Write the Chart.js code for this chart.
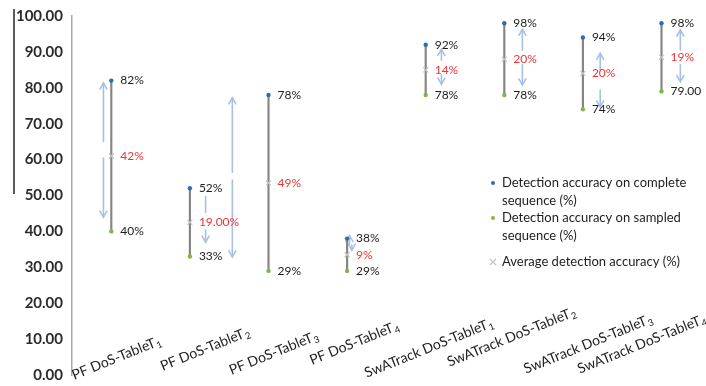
<!DOCTYPE html>
<html>
<head>
<meta charset="utf-8">
<script src="https://cdn.jsdelivr.net/npm/chart.js@4/dist/chart.umd.min.js"></script>
<style>
  html, body { margin: 0; padding: 0; background: #fff; }
  #wrap { width: 706px; height: 386px; position: relative; }
</style>
</head>
<body>
<div id="wrap"><canvas id="c" width="706" height="386"></canvas></div>
<script>
// Categories (trailing digit is drawn as a subscript)
const categories = [
  'PF DoS-TableT1', 'PF DoS-TableT2', 'PF DoS-TableT3', 'PF DoS-TableT4',
  'SwATrack DoS-TableT1', 'SwATrack DoS-TableT2', 'SwATrack DoS-TableT3', 'SwATrack DoS-TableT4'
];

// Detection accuracy on complete sequence (%)
const completeAcc = [82, 52, 78, 38, 92, 98, 94, 98];
// Detection accuracy on sampled sequence (%)
const sampledAcc = [40, 33, 29, 29, 78, 78, 74, 79];
// Average detection accuracy (%)
const averageAcc = [61, 42.5, 53.5, 33.5, 85, 88, 84, 88.5];

// Text shown next to each mark
const completeText = ['82%', '52%', '78%', '38%', '92%', '98%', '94%', '98%'];
const sampledText = ['40%', '33%', '29%', '29%', '78%', '78%', '74%', '79.00'];
const gapText = ['42%', '19.00%', '49%', '9%', '14%', '20%', '20%', '19%'];

// Legend entries
const seriesNames = [
  ['Detection accuracy on complete', 'sequence (%)'],
  ['Detection accuracy on sampled', 'sequence (%)'],
  ['Average detection accuracy (%)']
];

// Y axis tick values
const yTicks = [0, 10, 20, 30, 40, 50, 60, 70, 80, 90, 100];

// Annotation arrows: [category, shift in category widths, from value, to value, arrow head]
const arrowMarks = [
  [0, -0.10, 65.0, 81.3, true], [0, -0.10, 60.4, 44.0, true],
  [1, 0.20, 45.3, 49.7, false], [1, 0.20, 40.4, 37.0, true],
  [2, -0.46, 56.5, 77.2, true], [2, -0.46, 54.3, 32.9, true],
  [3, 0.03, 36.5, 38.8, true], [3, 0.06, 36.3, 34.8, true],
  [4, 0.20, 87.7, 90.7, true], [4, 0.20, 83.6, 81.0, true],
  [5, 0.23, 90.5, 96.3, true], [5, 0.23, 86.4, 80.8, true],
  [6, 0.22, 85.0, 89.6, true], [6, 0.22, 79.4, 74.7, true],
  [7, 0.24, 90.5, 96.1, true], [7, 0.24, 86.4, 81.7, true]
];

// Category label placement: [shift right px, lift above baseline px]
const catLabelPos = [
  [5, 17], [15, 26], [5, 22], [7, 32], [3, 27], [7, 38], [5, 31], [-20, 31]
];

const BLUE = '#2b6cb5';
const GREEN = '#7cba43';
const GREY_MARK = '#c4c4c4';
const RANGE_LINE = '#858585';
const ARROW = '#a9c0e2';
const FONT = 'Lato, "Open Sans", sans-serif';

// Light-blue annotation arrows, placed through the chart scales
const arrowPlugin = {
  id: 'arrows',
  beforeDatasetsDraw(chart) {
    const { ctx, scales: { x, y } } = chart;
    const step = x.getPixelForValue(1) - x.getPixelForValue(0);
    ctx.save();
    ctx.strokeStyle = ARROW;
    ctx.lineWidth = 1.6;
    ctx.lineCap = 'round';
    arrowMarks.forEach(([cat, shift, from, to, head]) => {
      const px = x.getPixelForValue(cat) + shift * step;
      const y0 = y.getPixelForValue(from);
      const y1 = y.getPixelForValue(to);
      ctx.beginPath();
      ctx.moveTo(px, y0);
      ctx.lineTo(px, y1);
      ctx.stroke();
      if (head) {
        const dir = y1 < y0 ? 1 : -1;
        ctx.beginPath();
        ctx.moveTo(px - 3.5, y1 + dir * 6);
        ctx.lineTo(px, y1);
        ctx.lineTo(px + 3.5, y1 + dir * 6);
        ctx.stroke();
      }
    });
    ctx.restore();
  }
};

// Value labels beside the marks, rotated category labels, legend
const labelPlugin = {
  id: 'labels',
  afterDraw(chart) {
    const { ctx, scales: { x, y } } = chart;
    ctx.save();
    ctx.textBaseline = 'middle';
    ctx.textAlign = 'left';
    ctx.font = '12px ' + FONT;
    categories.forEach((c, i) => {
      const px = x.getPixelForValue(i) + 9;
      ctx.fillStyle = '#1c1c1c';
      ctx.fillText(completeText[i], px, y.getPixelForValue(completeAcc[i]));
      ctx.fillText(sampledText[i], px, y.getPixelForValue(sampledAcc[i]));
      ctx.fillStyle = '#ee3535';
      ctx.fillText(gapText[i], px, y.getPixelForValue(averageAcc[i]));
    });

    // Category labels, rotated, sitting just above the baseline
    categories.forEach((lab, i) => {
      const base = lab.slice(0, -1);
      const sub = lab.slice(-1);
      const [dx, lift] = catLabelPos[i];
      ctx.save();
      ctx.translate(x.getPixelForValue(i) + dx, y.getPixelForValue(0) - lift);
      ctx.rotate(-22 * Math.PI / 180);
      ctx.font = '14px ' + FONT;
      const wb = ctx.measureText(base).width;
      ctx.font = '9.5px ' + FONT;
      const ws = ctx.measureText(sub).width;
      const start = -(wb + ws) / 2;
      ctx.fillStyle = '#1e1e1e';
      ctx.font = '14px ' + FONT;
      ctx.fillText(base, start, 0);
      ctx.font = '9.5px ' + FONT;
      ctx.fillText(sub, start + wb + 0.5, 4);
      ctx.restore();
    });

    // Legend
    const colors = [BLUE, GREEN, GREY_MARK];
    const tops = [183, 218, 262];
    ctx.font = '13px ' + FONT;
    seriesNames.forEach((lines, k) => {
      const ly = tops[k];
      const lx = 493;
      if (k < 2) {
        ctx.fillStyle = colors[k];
        ctx.beginPath();
        ctx.arc(lx, ly, 2, 0, Math.PI * 2);
        ctx.fill();
      } else {
        ctx.strokeStyle = colors[k];
        ctx.lineWidth = 1.2;
        ctx.beginPath();
        ctx.moveTo(lx - 3, ly - 3); ctx.lineTo(lx + 3, ly + 3);
        ctx.moveTo(lx + 3, ly - 3); ctx.lineTo(lx - 3, ly + 3);
        ctx.stroke();
      }
      ctx.fillStyle = '#1e1e1e';
      lines.forEach((t, j) => ctx.fillText(t, 502, ly + j * 18));
    });

    // Left-hand rule
    ctx.strokeStyle = '#000';
    ctx.lineWidth = 1.3;
    ctx.beginPath();
    ctx.moveTo(14, 9);
    ctx.lineTo(14, 194);
    ctx.stroke();
    ctx.restore();
  }
};

new Chart(document.getElementById('c'), {
  type: 'bar',
  data: {
    labels: categories,
    datasets: [
      {
        type: 'line',
        label: seriesNames[0].join(' '),
        data: completeAcc,
        showLine: false,
        pointStyle: 'circle',
        pointRadius: 2.2,
        pointBackgroundColor: BLUE,
        pointBorderWidth: 0,
        order: 1
      },
      {
        type: 'line',
        label: seriesNames[1].join(' '),
        data: sampledAcc,
        showLine: false,
        pointStyle: 'circle',
        pointRadius: 2.2,
        pointBackgroundColor: GREEN,
        pointBorderWidth: 0,
        order: 1
      },
      {
        type: 'line',
        label: seriesNames[2][0],
        data: averageAcc,
        showLine: false,
        pointStyle: 'crossRot',
        pointRadius: 3.5,
        pointBorderColor: GREY_MARK,
        pointBorderWidth: 1.2,
        order: 2
      },
      {
        type: 'bar',
        label: 'range',
        data: completeAcc.map((c, i) => [sampledAcc[i], c]),
        backgroundColor: RANGE_LINE,
        barThickness: 1.5,
        order: 5
      }
    ]
  },
  options: {
    responsive: false,
    animation: false,
    events: [],
    layout: { padding: { top: 0, right: 5, bottom: 0, left: 0 } },
    plugins: {
      legend: { display: false },
      tooltip: { enabled: false }
    },
    scales: {
      x: {
        display: false,
        offset: true
      },
      y: {
        min: 0,
        max: 100,
        afterBuildTicks(s) { s.ticks = yTicks.map(v => ({ value: v })); },
        afterFit(s) {
          s.width = 72;
          s.paddingTop = 16;
          s.paddingBottom = 11;
        },
        ticks: {
          callback: v => Number(v).toFixed(2),
          color: '#2b2b2b',
          padding: 9,
          font: { family: FONT, size: 15, weight: 'bold' }
        },
        grid: { display: false, drawTicks: false },
        border: { display: true, color: '#a8a8a8', width: 1.5 }
      }
    }
  },
  plugins: [arrowPlugin, labelPlugin]
});
</script>
</body>
</html>
